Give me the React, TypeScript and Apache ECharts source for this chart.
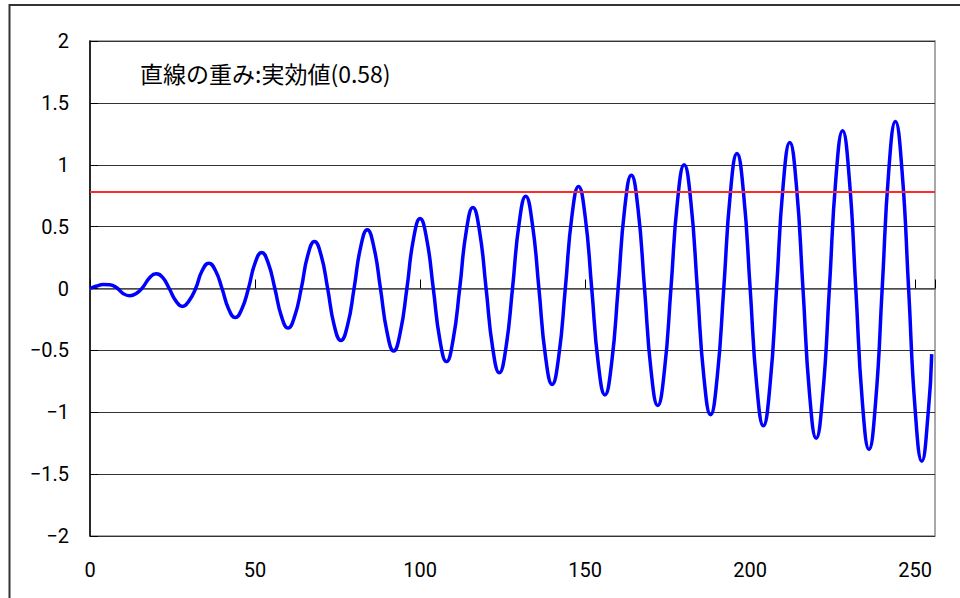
import React, { useEffect, useRef } from "react";
import * as echarts from "echarts";

// sample positions (x axis units)
const sampleX = [
  0, 2, 4, 6, 8, 10, 12, 14, 16, 18, 20, 22, 24, 26, 28, 30, 32, 34, 36, 38, 40,
  42, 44, 46, 48, 50, 52, 54, 56, 58, 60, 62, 64, 66, 68, 70, 72, 74, 76, 78, 80,
  82, 84, 86, 88, 90, 92, 94, 96, 98, 100, 102, 104, 106, 108, 110, 112, 114, 116,
  118, 120, 122, 124, 126, 128, 130, 132, 134, 136, 138, 140, 142, 144, 146, 148,
  150, 152, 154, 156, 158, 160, 162, 164, 166, 168, 170, 172, 174, 176, 178, 180,
  182, 184, 186, 188, 190, 192, 194, 196, 198, 200, 202, 204, 206, 208, 210, 212,
  214, 216, 218, 220, 222, 224, 226, 228, 230, 232, 234, 236, 238, 240, 242, 244,
  246, 248, 250, 252, 254, 255,
];

// wave values
const waveY = [
  0.0, 0.02, 0.032, 0.03, 0.008, -0.04, -0.058, -0.04, 0.01, 0.085, 0.12, 0.09,
  0.0, -0.1, -0.145, -0.1, 0.0, 0.145, 0.205, 0.145, 0.0, -0.165, -0.235, -0.165,
  0.0, 0.205, 0.29, 0.205, 0.0, -0.225, -0.32, -0.225, 0.0, 0.27, 0.38, 0.27,
  0.0, -0.3, -0.42, -0.3, 0.0, 0.335, 0.475, 0.335, 0.0, -0.355, -0.505, -0.355,
  0.0, 0.4, 0.565, 0.4, 0.0, -0.415, -0.59, -0.415, 0.0, 0.465, 0.655, 0.465,
  0.0, -0.48, -0.68, -0.48, 0.0, 0.525, 0.745, 0.525, 0.0, -0.55, -0.775, -0.55,
  0.0, 0.585, 0.825, 0.585, 0.0, -0.61, -0.86, -0.61, 0.0, 0.65, 0.915, 0.65,
  0.0, -0.67, -0.945, -0.67, 0.0, 0.71, 1.0, 0.71, 0.0, -0.72, -1.02, -0.72,
  0.0, 0.77, 1.09, 0.77, 0.0, -0.785, -1.11, -0.785, 0.0, 0.835, 1.18, 0.835,
  0.0, -0.855, -1.21, -0.855, 0.0, 0.9, 1.275, 0.9, 0.0, -0.92, -1.3, -0.92,
  0.0, 0.955, 1.35, 0.955, 0.0, -0.985, -1.395, -0.985, -0.53,
];

const rmsLevel = 0.776;
const titleText = "直線の重み:実効値(0.58)";
const xTickLabels = ["0", "50", "100", "150", "200", "250"];
const yTickLabels = ["-2", "-1.5", "-1", "-0.5", "0", "0.5", "1", "1.5", "2"];

const numFont = "Roboto, 'Noto Sans', sans-serif";

export default function App() {
  const ref = useRef<HTMLDivElement>(null);
  useEffect(() => {
    if (!ref.current) return;
    const chart = echarts.init(ref.current, undefined, { renderer: "svg" });
    const data = sampleX.map((x, i) => [x, waveY[i]]);
    chart.setOption({
      animation: false,
      backgroundColor: "#ffffff",
      grid: {
        left: 90,
        top: 41,
        right: 25,
        bottom: 62,
        show: true,
        borderColor: "#8c8c8c",
        borderWidth: 1.5,
        backgroundColor: "transparent",
      },
      graphic: [
        {
          type: "polyline",
          shape: { points: [[9.5, 598], [9.5, 5], [960, 5]] },
          style: { stroke: "#333", lineWidth: 2, fill: "none" },
          silent: true,
        },
        {
          type: "text",
          left: 140,
          top: 61,
          style: {
            text: titleText,
            font: "23px 'Noto Sans CJK JP', sans-serif",
            fill: "#000",
          },
        },
      ],
      xAxis: [
        {
          type: "value",
          min: 0,
          max: 256,
          interval: 50,
          position: "bottom",
          axisLine: { show: false, onZero: false },
          axisTick: { show: false },
          splitLine: { show: false },
          axisLabel: {
            margin: 24,
            fontSize: 20,
            color: "#000",
            fontFamily: numFont,
            showMaxLabel: false,
            formatter: (v: number) => {
              const s = String(v);
              return xTickLabels.indexOf(s) >= 0 ? s : "";
            },
          },
        },
        {
          type: "value",
          min: 0,
          max: 256,
          interval: 50,
          position: "bottom",
          axisLine: {
            show: true,
            onZero: true,
            lineStyle: { color: "#555", width: 1.5 },
          },
          axisTick: {
            show: true,
            inside: true,
            length: 9,
            lineStyle: { color: "#000", width: 1 },
          },
          axisLabel: { show: false },
          splitLine: { show: false },
        },
      ],
      yAxis: {
        type: "value",
        min: -2,
        max: 2,
        interval: 0.5,
        axisLine: { show: true, onZero: false, lineStyle: { color: "#000", width: 1.5 } },
        axisTick: { show: true, inside: true, length: 8, lineStyle: { color: "#000" } },
        splitLine: { show: true, lineStyle: { color: "#333", width: 1 } },
        axisLabel: {
          margin: 21,
          fontSize: 20,
          color: "#000",
          fontFamily: numFont,
          padding: [12, 0, 0, 0],
          formatter: (v: number) => {
            const s = String(v);
            return yTickLabels.indexOf(s) >= 0 ? s.replace("-", "\u2212") : "";
          },
        },
      },
      series: [
        {
          type: "line",
          xAxisIndex: 0,
          data,
          smooth: 0.5,
          showSymbol: false,
          symbol: "none",
          lineStyle: { color: "#0000ff", width: 3.5 },
          markLine: {
            silent: true,
            symbol: "none",
            label: { show: false },
            lineStyle: { color: "#ff2a2a", width: 2, type: "solid" },
            data: [{ yAxis: rmsLevel }],
          },
          z: 3,
        },
      ],
    });
    return () => chart.dispose();
  }, []);
  return (
    <div
      ref={ref}
      style={{ position: "absolute", left: 0, top: 0, width: 960, height: 598 }}
    />
  );
}
